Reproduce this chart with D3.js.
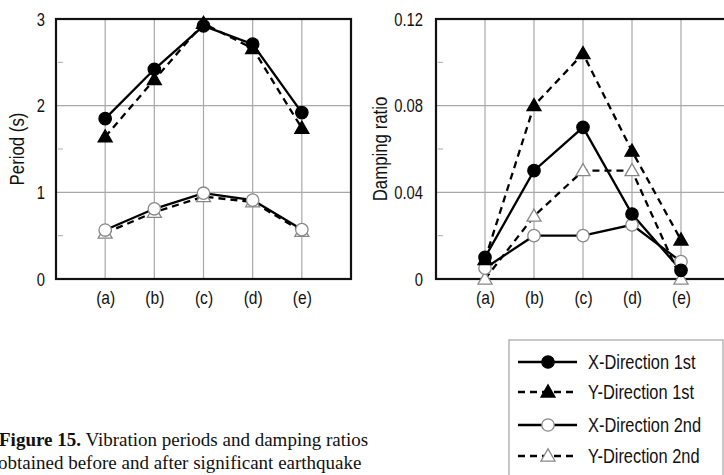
<!DOCTYPE html>
<html><head><meta charset="utf-8">
<script src="https://cdn.jsdelivr.net/npm/d3@7"></script>
<style>
body{margin:0;background:#fff;}
svg{display:block;}
.sans{font-family:"Liberation Sans",Arial,sans-serif;}
.serif{font-family:"Liberation Serif","Times New Roman",serif;}
</style></head>
<body>
<svg id="c" width="724" height="475"></svg>
<script>
const categories = ["(a)","(b)","(c)","(d)","(e)"];
const seriesNames = ["X-Direction 1st","Y-Direction 1st","X-Direction 2nd","Y-Direction 2nd"];
// Period (s)
const periodX1 = [1.85, 2.42, 2.92, 2.71, 1.92];
const periodY1 = [1.64, 2.30, 2.95, 2.66, 1.74];
const periodX2 = [0.565, 0.81, 0.99, 0.91, 0.57];
const periodY2 = [0.53, 0.77, 0.95, 0.89, 0.55];
// Damping ratio
const dampX1 = [0.010, 0.050, 0.070, 0.030, 0.004];
const dampY1 = [0.009, 0.080, 0.104, 0.059, 0.018];
const dampX2 = [0.005, 0.020, 0.020, 0.025, 0.008];
const dampY2 = [0.000, 0.029, 0.050, 0.050, 0.000];
const periodTicks = [0, 1, 2, 3];
const periodMinor = [0.5, 1.5, 2.5];
const dampTicks = [0, 0.04, 0.08, 0.12];
const dampMinor = [0.02, 0.06, 0.10];

const styles = [
  {dash:null, shape:"circle", fill:"#000", stroke:"#000"},
  {dash:"7,5", shape:"triangle", fill:"#000", stroke:"#000"},
  {dash:null, shape:"circle", fill:"#fff", stroke:"#888"},
  {dash:"7,5", shape:"triangle", fill:"#fff", stroke:"#888"}
];

const svg = d3.select("#c");

function narrow(sel){
  sel.each(function(){
    const w = this.getComputedTextLength();
    d3.select(this).attr("textLength", w*0.82).attr("lengthAdjust","spacingAndGlyphs");
  });
}

function panel(opt){
  const g = svg.append("g");
  const x = d3.scaleLinear().domain([0,6]).range([opt.x0, opt.x1]);
  const y = d3.scaleLinear().domain(opt.domain).range([279, 19]);
  g.selectAll(".vg").data(d3.range(1,6)).join("line")
    .attr("x1", d=>x(d)).attr("x2", d=>x(d)).attr("y1", y.range()[0]).attr("y2", y.range()[1])
    .attr("stroke","#a8a8a8").attr("stroke-width",1.2);
  g.selectAll(".hg").data(opt.ticks.slice(1,-1)).join("line")
    .attr("x1", opt.x0).attr("x2", opt.x1).attr("y1", d=>y(d)).attr("y2", d=>y(d))
    .attr("stroke","#a8a8a8").attr("stroke-width",1.2);
  g.selectAll(".mn").data(opt.minor).join("line")
    .attr("x1", opt.x0+2).attr("x2", opt.x0+7).attr("y1", d=>y(d)).attr("y2", d=>y(d))
    .attr("stroke","#aaa").attr("stroke-width",1);
  const ax = d3.axisLeft(y).tickValues(opt.ticks).tickSize(0).tickPadding(opt.pad).tickFormat(opt.fmt);
  const ag = g.append("g").attr("transform",`translate(${opt.x0},0)`).call(ax);
  ag.select(".domain").remove();
  ag.selectAll("text").attr("class","sans").style("font-size","18px").attr("fill","#111").attr("dy","0.35em").call(narrow);
  const bx = d3.axisBottom(x).tickValues(d3.range(1,6)).tickSize(0).tickPadding(12).tickFormat(d=>categories[d-1]);
  const bg = g.append("g").attr("transform",`translate(0,279)`).call(bx);
  bg.select(".domain").remove();
  bg.selectAll("text").attr("class","sans").style("font-size","19px").attr("fill","#111").call(narrow);
  g.append("rect").attr("x",opt.x0).attr("y",19).attr("width",opt.x1-opt.x0).attr("height",260)
    .attr("fill","none").attr("stroke","#111").attr("stroke-width",2.2);
  g.append("text").attr("class","sans").attr("transform",`translate(${opt.tx},149) rotate(-90)`)
    .attr("text-anchor","middle").attr("dy","0.35em").style("font-size","20.5px").attr("fill","#111").text(opt.title).call(narrow);
  const line = d3.line().x((d,i)=>x(i+1)).y(d=>y(d));
  opt.series.forEach((s,k)=>{
    g.append("path").datum(s).attr("d",line).attr("fill","none").attr("stroke","#000")
      .attr("stroke-width",2.3).attr("stroke-dasharray",styles[k].dash);
  });
  [3,2,1,0].forEach(k=>{
    opt.series[k].forEach((v,i)=>marker(g, x(i+1), y(v), styles[k]));
  });
}

function marker(g, cx, cy, st){
  if(st.shape==="circle"){
    g.append("circle").attr("cx",cx).attr("cy",cy).attr("r",6.2)
      .attr("fill",st.fill).attr("stroke",st.stroke).attr("stroke-width",1.3);
  } else {
    const sym = d3.symbol().type(d3.symbolTriangle).size(85);
    g.append("path").attr("d",sym()).attr("transform",`translate(${cx},${cy+1})`)
      .attr("fill",st.fill).attr("stroke",st.stroke).attr("stroke-width",1.3);
  }
}

panel({x0:56, x1:351, domain:[0,3], ticks:periodTicks, minor:periodMinor, pad:11,
  fmt:d3.format("d"), title:"Period (s)", tx:17,
  series:[periodX1, periodY1, periodX2, periodY2]});
panel({x0:436, x1:730, domain:[0,0.12], ticks:dampTicks, minor:dampMinor, pad:13,
  fmt:d=>d===0?"0":d3.format(".2f")(d), title:"Damping ratio", tx:380,
  series:[dampX1, dampY1, dampX2, dampY2]});

const lg = svg.append("g");
lg.append("rect").attr("x",509).attr("y",340).attr("width",214).attr("height",150)
  .attr("fill","#fff").attr("stroke","#aaa").attr("stroke-width",1.3);
const rowY = [362, 392, 425, 456];
seriesNames.forEach((name,k)=>{
  const yy=rowY[k];
  lg.append("line").attr("x1",518).attr("x2",577).attr("y1",yy).attr("y2",yy)
    .attr("stroke","#000").attr("stroke-width",2.4).attr("stroke-dasharray",styles[k].dash);
  marker(lg, 548, yy, styles[k]);
  lg.append("text").attr("class","sans").attr("x",588).attr("y",yy).attr("dy","0.35em")
    .style("font-size","20px").attr("fill","#111").text(name).call(narrow);
});

const cap = svg.append("text").attr("class","serif").style("font-size","19px").attr("fill","#111");
const t1 = cap.append("tspan").attr("x",-1).attr("y",446);
t1.append("tspan").attr("font-weight","bold").text("Figure 15.");
t1.append("tspan").text(" Vibration periods and damping ratios");
cap.append("tspan").attr("x",-2).attr("y",469).text("obtained before and after significant earthquake");
</script>
</body></html>
